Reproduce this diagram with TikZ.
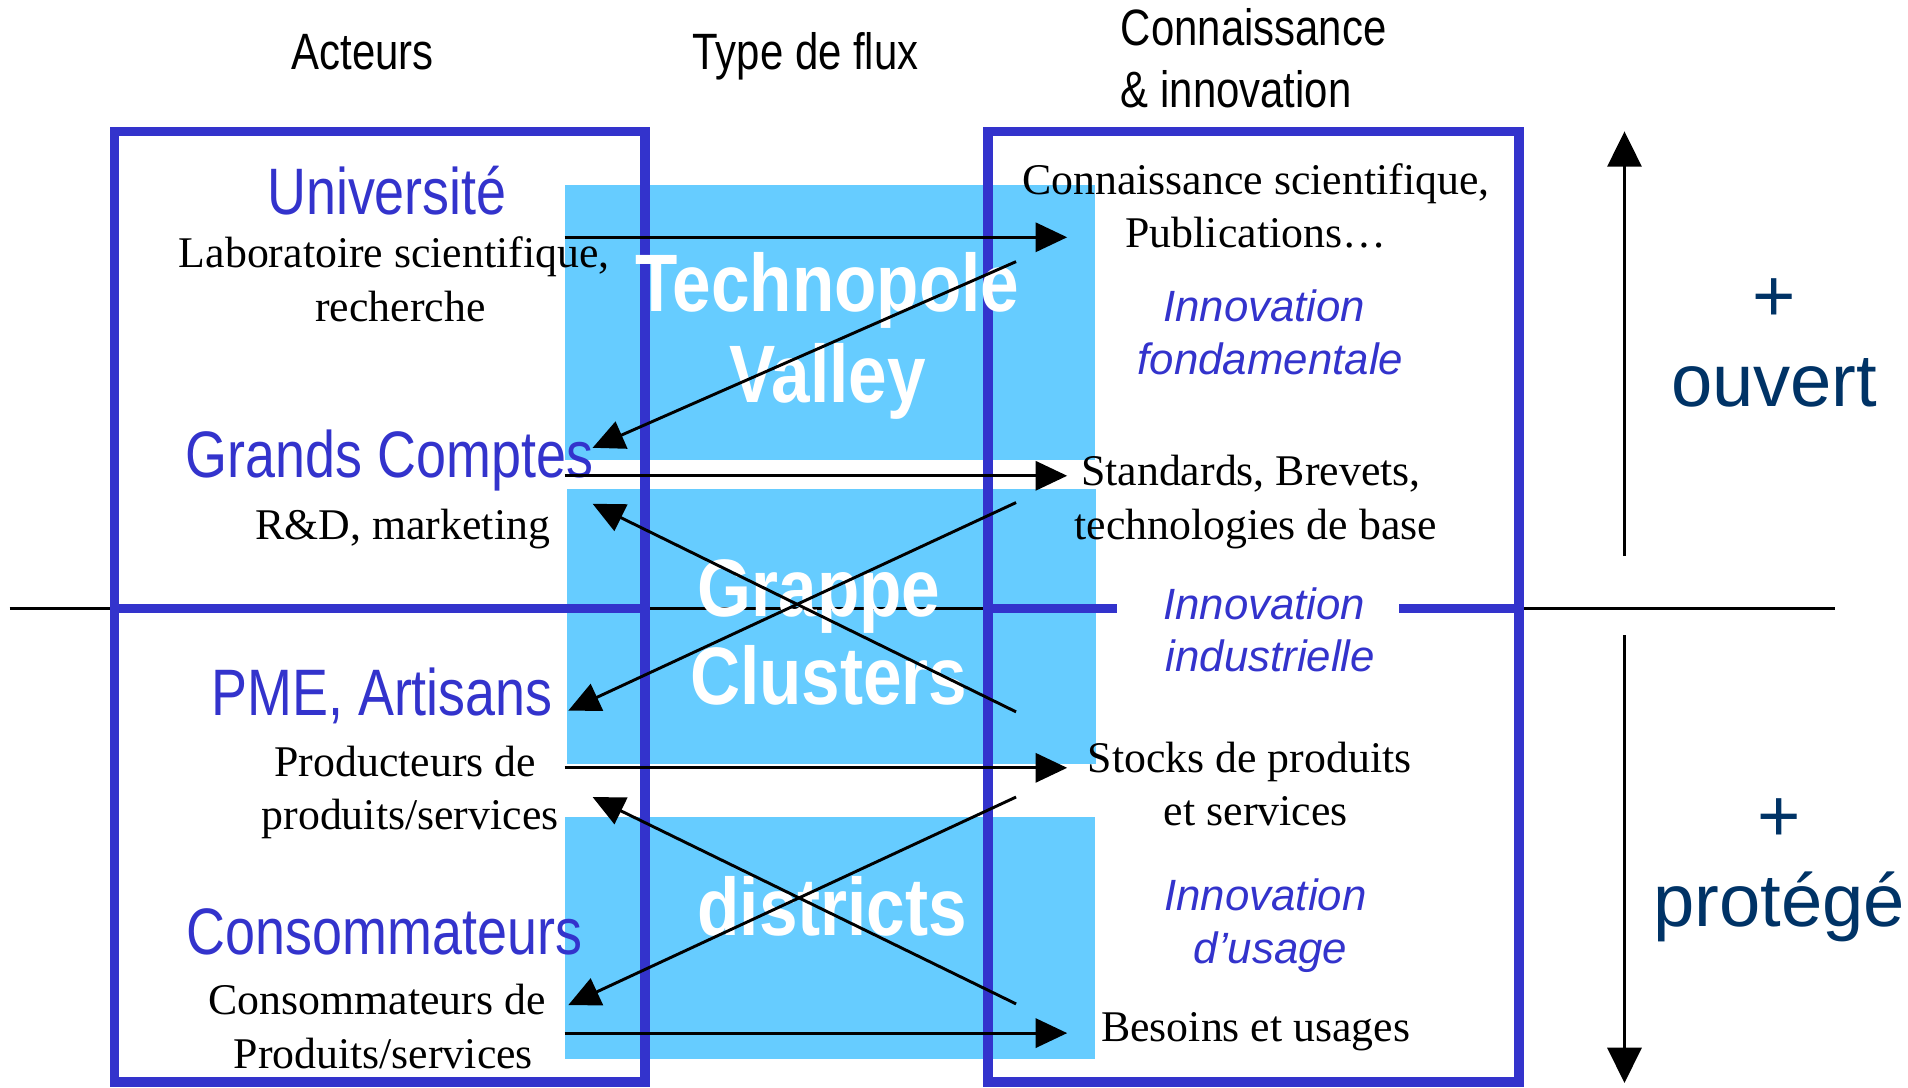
\documentclass[tikz,border=0pt]{standalone}
\usepackage{fontspec}
\setmainfont{Liberation Serif}
\newfontfamily\narrowsans[FakeStretch=0.82]{Liberation Sans}
\newfontfamily\boldnarrow[FakeStretch=0.85]{Liberation Sans}
\newfontfamily\plainsans{Liberation Sans}
\usetikzlibrary{arrows.meta}
\definecolor{boxblue}{RGB}{51,51,204}
\definecolor{fillblue}{RGB}{102,204,255}
\definecolor{navy}{RGB}{0,51,102}
\begin{document}
\begin{tikzpicture}[x=1pt,y=-1pt,
  hdr/.style={font=\narrowsans\fontsize{42}{48}\selectfont, inner sep=0pt, anchor=base},
  actor/.style={font=\narrowsans\fontsize{54}{60}\selectfont, text=boxblue, inner sep=0pt, anchor=base},
  desc/.style={font=\fontsize{36}{42}\selectfont, inner sep=0pt, anchor=base},
  innov/.style={font=\plainsans\itshape\fontsize{36}{42}\selectfont, text=boxblue, inner sep=0pt, anchor=base},
  cluster/.style={font=\boldnarrow\bfseries\fontsize{67}{72}\selectfont, text=white, inner sep=0pt, anchor=base},
  side/.style={font=\plainsans\fontsize{61}{66}\selectfont, text=navy, inner sep=0pt, anchor=base},
  flow/.style={line width=2.4pt, -{Triangle[length=26pt,width=24pt]}},
  axis/.style={line width=2.4pt, -{Triangle[length=29pt,width=28pt]}},
  panel/.style={fill=fillblue},
  frame/.style={draw=boxblue, line width=8pt},
]
\useasboundingbox (0,0) rectangle (1568,894);

% light blue panels
\fill[panel] (464,152) rectangle (900,378);
\fill[panel] (466,402) rectangle (901,628);
\fill[panel] (464,671) rectangle (900,870);

% divider (interrupted by the "Innovation industrielle" label)
\coordinate (dvA) at (8,500); \coordinate (dvB) at (918,500);
\coordinate (dvC) at (1150,500); \coordinate (dvD) at (1508,500);
\draw[line width=2.4pt] (dvA) -- (dvB);
\draw[line width=2.4pt] (dvC) -- (dvD);

% frames
\draw[frame] (94,108) rectangle (530,889);
\draw[frame] (94,500) -- (530,500);
\draw[frame] (812,108) rectangle (1248,889);
\draw[frame] (812,500) -- (dvB);
\draw[frame] (dvC) -- (1248,500);

% white cluster labels
\node[cluster] (techno) at (680,256) {Technopole};
\node[cluster] (valley) at (680,331) {Valley};
\node[cluster] (grappe) at (673,507) {Grappe};
\node[cluster] (clusters) at (681,579) {Clusters};
\node[cluster] (districts) at (684,769) {districts};

% headers
\node[hdr] (acteurs) at (298,57) {Acteurs};
\node[hdr] (flux) at (662,57) {Type de flux};
\node[hdr, anchor=base west] (conn1) at (921,37) {Connaissance};
\node[hdr, anchor=base west] (conn2) at (921,88) {\& innovation};

% actors
\node[actor] (univ) at (318,176) {Université};
\node[desc] (univ1) at (324,220) {Laboratoire scientifique,};
\node[desc] (univ2) at (329,264) {recherche};
\node[actor] (gc) at (320,392) {Grands Comptes};
\node[desc] (gc1) at (331,443) {R\&D, marketing};
\node[actor] (pme) at (314,588) {PME, Artisans};
\node[desc] (pme1) at (333,638) {Producteurs de};
\node[desc] (pme2) at (337,682) {produits/services};
\node[actor] (conso) at (316,784) {Consommateurs};
\node[desc] (conso1) at (310,834) {Consommateurs de};
\node[desc] (conso2) at (315,878) {Produits/services};

% knowledge side
\node[desc] (k1) at (1032,160) {Connaissance scientifique,};
\node[desc] (k2) at (1032,203) {Publications…};
\node[innov] (i1) at (1039,264) {Innovation};
\node[innov] (i2) at (1044,308) {fondamentale};
\node[desc] (s1) at (1028,399) {Standards, Brevets,};
\node[desc] (s2) at (1032,443) {technologies de base};
\node[innov] (i3) at (1039,509) {Innovation};
\node[innov] (i4) at (1044,552) {industrielle};
\node[desc] (p1) at (1027,635) {Stocks de produits};
\node[desc] (p2) at (1032,678) {et services};
\node[innov] (i5) at (1040,748) {Innovation};
\node[innov] (i6) at (1044,792) {d’usage};
\node[desc] (b1) at (1032,856) {Besoins et usages};

% side labels
\node[side, anchor=center] (plus1) at (1458,247) {+};
\node[side] (ouvert) at (1458,334) {ouvert};
\node[side, anchor=center] (plus2) at (1462,674) {+};
\node[side] (protege) at (1462,761) {protégé};

% arrow end points
\coordinate (f1s) at (464,195); \coordinate (f1e) at (877,195);
\coordinate (f2s) at (835,215); \coordinate (f2e) at (487,368);
\coordinate (f3s) at (464,391); \coordinate (f3e) at (877,391);
\coordinate (f4s) at (835,413); \coordinate (f4e) at (467,584);
\coordinate (f5s) at (835,585); \coordinate (f5e) at (487,414);
\coordinate (f6s) at (464,631); \coordinate (f6e) at (877,631);
\coordinate (f7s) at (835,655); \coordinate (f7e) at (467,826);
\coordinate (f8s) at (835,825); \coordinate (f8e) at (487,655);
\coordinate (f9s) at (464,849); \coordinate (f9e) at (877,849);
\coordinate (upS) at (1335,457); \coordinate (upE) at (1335,108);
\coordinate (dnS) at (1335,522); \coordinate (dnE) at (1335,890);

\draw[flow] (f1s) -- (f1e);
\draw[flow] (f2s) -- (f2e);
\draw[flow] (f3s) -- (f3e);
\draw[flow] (f4s) -- (f4e);
\draw[flow] (f5s) -- (f5e);
\draw[flow] (f6s) -- (f6e);
\draw[flow] (f7s) -- (f7e);
\draw[flow] (f8s) -- (f8e);
\draw[flow] (f9s) -- (f9e);
\draw[axis] (upS) -- (upE);
\draw[axis] (dnS) -- (dnE);
\end{tikzpicture}
\end{document}
